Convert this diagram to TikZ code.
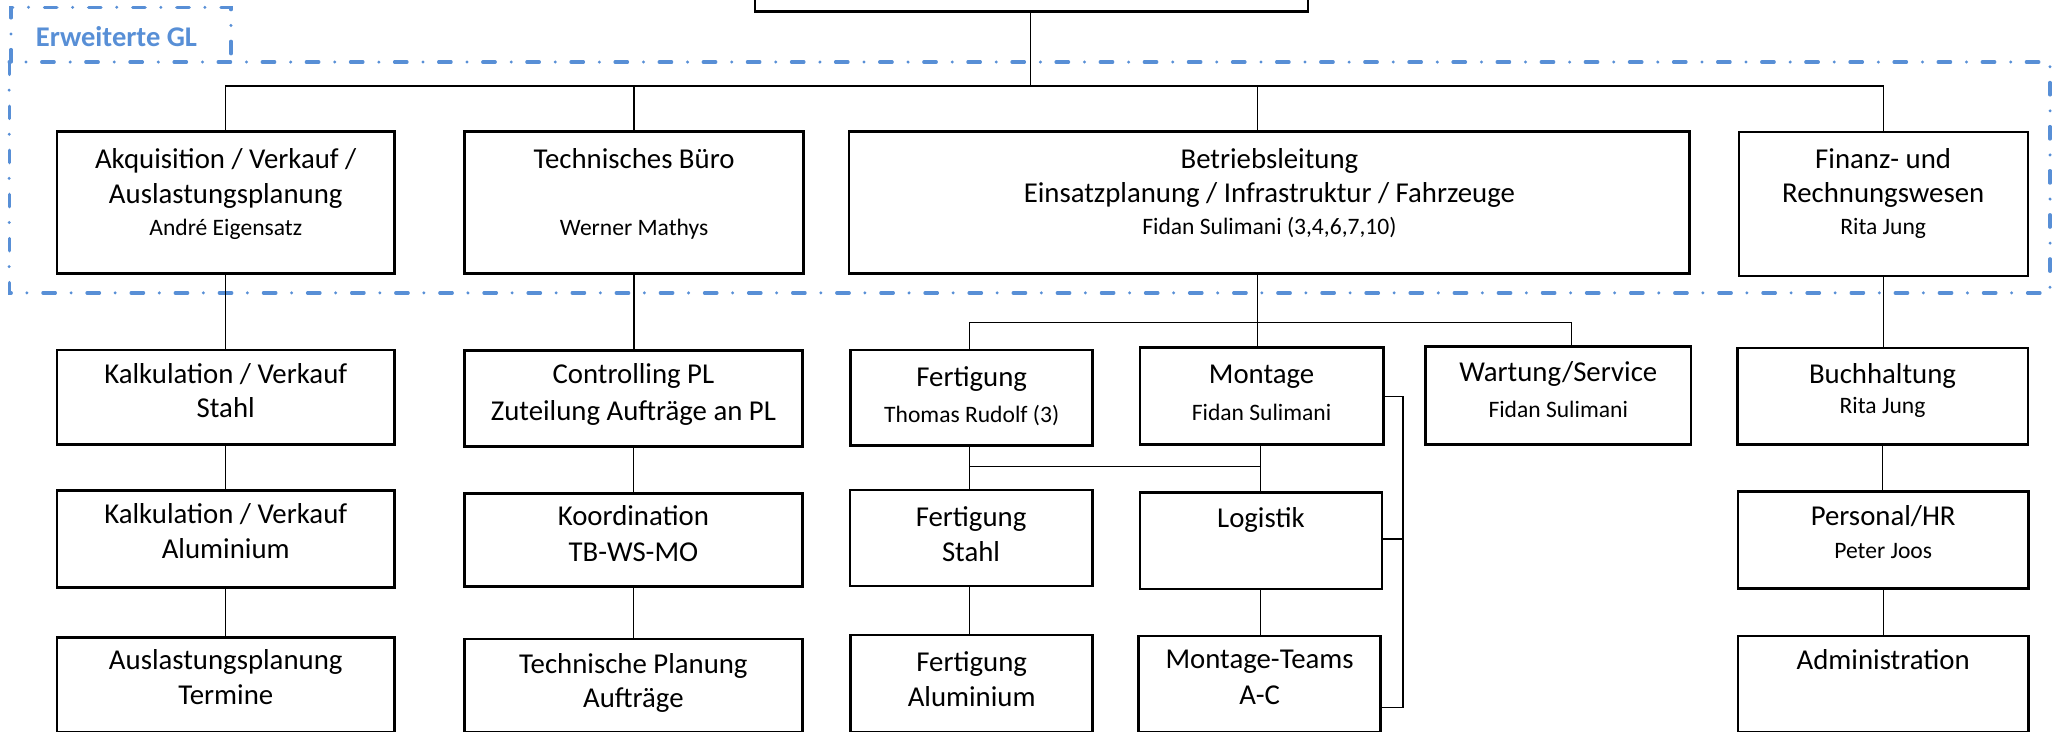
\documentclass[tikz,border=0pt]{standalone}
\usepackage{fontspec}
\setmainfont{Carlito}
\definecolor{glblue}{RGB}{88,143,214}
\tikzset{
  box/.style={draw=black, line width=2pt, rectangle, inner sep=0pt, outer sep=0pt},
  link/.style={draw=black, line width=1pt},
  big/.style={anchor=mid, inner sep=0pt, font=\fontsize{22}{24}\selectfont},
  small/.style={anchor=mid, inner sep=0pt, font=\fontsize{18}{20}\selectfont},
  dashdotblue/.style={draw=glblue, line width=2.5pt, line cap=round,
    dash pattern=on 9.5pt off 12pt on 0pt off 12.2pt},
}
\newcommand\orgbox[5]{%
  \node[box, minimum width={#4pt-#2pt}, minimum height={#5pt-#3pt}]
    (#1) at ({(#2+#4)/2},{(#3+#5)/2}) {};}
\begin{document}
\begin{tikzpicture}[x=1pt, y=-1pt]
\useasboundingbox (0,0) rectangle (1568,559.3);
\clip (0,0) rectangle (1568,559.3);

% extended management frame
\draw[dashdotblue] (7,47.4) rectangle (1566.5,223.8);
\draw[dashdotblue] (8.4,47.4) -- (8.4,5.6) -- (176.5,5.6) -- (176.5,47.4);
\node[anchor=base, inner sep=0pt, text=glblue, font=\fontsize{21.8}{24}\selectfont\bfseries]
  (gl) at (89,35.7) {Erweiterte GL};

% boxes
\orgbox{top}{577}{-80}{999.5}{8.9}
\orgbox{akq}{43.5}{100.6}{301.5}{208.8}
\orgbox{tb}{355}{100.6}{614}{208.8}
\orgbox{bl}{648.7}{100.6}{1291}{208.8}
\orgbox{fin}{1328.8}{101}{1549.7}{211}
\orgbox{kst}{43.5}{267.4}{301.5}{339.5}
\orgbox{ctl}{355}{268}{613}{341.3}
\orgbox{fer}{650}{267.4}{835}{340.5}
\orgbox{mon}{871}{265.6}{1057}{339.5}
\orgbox{war}{1089.4}{265}{1292}{339.5}
\orgbox{buc}{1327.5}{266}{1549.5}{339.5}
\orgbox{kal}{43.5}{374.9}{301.5}{449}
\orgbox{koo}{355}{376.9}{613}{448.2}
\orgbox{fst}{649.5}{374.4}{834.6}{447.7}
\orgbox{log}{871}{376.4}{1056}{450}
\orgbox{per}{1328}{375.6}{1550}{449.5}
\orgbox{aus}{43.5}{487}{301.5}{559.6}
\orgbox{tpl}{355}{488.4}{613}{559.6}
\orgbox{fal}{650}{485.2}{835}{559.6}
\orgbox{mte}{870}{486}{1055}{559.6}
\orgbox{adm}{1328}{485.9}{1550}{559.6}

% texts
\node[big] (akq1) at (172.5,126) {Akquisition / Verkauf /};
\node[big] (akq2) at (172.5,153) {Auslastungsplanung};
\node[small] (akq3) at (172.5,177.4) {André Eigensatz};
\node[big] (tb1) at (484.5,126) {Technisches Büro};
\node[small] (tb2) at (484.5,177.4) {Werner Mathys};
\node[big] (bl1) at (970,126) {Betriebsleitung};
\node[big] (bl2) at (970,152) {Einsatzplanung / Infrastruktur / Fahrzeuge};
\node[small] (bl3) at (970,177) {Fidan Sulimani (3,4,6,7,10)};
\node[big] (fin1) at (1439,126) {Finanz- und};
\node[big] (fin2) at (1439,152) {Rechnungswesen};
\node[small] (fin3) at (1439,177) {Rita Jung};

\node[big] (kst1) at (172.5,290.3) {Kalkulation / Verkauf};
\node[big] (kst2) at (172.5,317) {Stahl};
\node[big] (ctl1) at (484,290.7) {Controlling PL};
\node[big] (ctl2) at (484,318.8) {Zuteilung Aufträge an PL};
\node[big] (fer1) at (742.5,292.7) {Fertigung};
\node[small] (fer2) at (742.5,320.5) {Thomas Rudolf (3)};
\node[big] (mon1) at (964,290.8) {Montage};
\node[small] (mon2) at (964,318.7) {Fidan Sulimani};
\node[big] (war1) at (1190.7,289) {Wartung/Service};
\node[small] (war2) at (1190.7,317) {Fidan Sulimani};
\node[big] (buc1) at (1438.5,290.3) {Buchhaltung};
\node[small] (buc2) at (1438.5,313.2) {Rita Jung};

\node[big] (kal1) at (172.5,397.3) {Kalkulation / Verkauf};
\node[big] (kal2) at (172.5,424) {Aluminium};
\node[big] (koo1) at (484,399.3) {Koordination};
\node[big] (koo2) at (484,426.6) {TB-WS-MO};
\node[big] (fst1) at (742,399.8) {Fertigung};
\node[big] (fst2) at (742,426.6) {Stahl};
\node[big] (log1) at (963.5,400.9) {Logistik};
\node[big] (per1) at (1439,399.3) {Personal/HR};
\node[small] (per2) at (1439,424) {Peter Joos};

\node[big] (aus1) at (172.5,509.3) {Auslastungsplanung};
\node[big] (aus2) at (172.5,536) {Termine};
\node[big] (tpl1) at (484,512) {Technische Planung};
\node[big] (tpl2) at (484,538.6) {Aufträge};
\node[big] (fal1) at (742.5,510.6) {Fertigung};
\node[big] (fal2) at (742.5,537.3) {Aluminium};
\node[big] (mte1) at (962.5,508.6) {Montage-Teams};
\node[big] (mte2) at (962.5,536) {A-C};
\node[big] (adm1) at (1439,509.3) {Administration};

% axes / hubs
\coordinate (hubtop) at (787.6,65.7);
\coordinate (blaxis) at (961,246.5);
\coordinate (feraxis) at (741,356.5);
\coordinate (monaxis) at (963,356.5);
\coordinate (brk) at (1072,0);

% connectors, top level
\draw[link] (top.south -| hubtop) -- (hubtop);
\draw[link] (akq.north) |- (hubtop) -| (fin.north);
\draw[link] (tb.north) -- (tb.north |- hubtop);
\draw[link] (bl.north -| blaxis) -- (blaxis |- hubtop);

% left columns
\draw[link] (akq.south) -- (kst.north);
\draw[link] (kst.south) -- (kal.north);
\draw[link] (kal.south) -- (aus.north);
\draw[link] (tb.south) -- (tb.south |- ctl.north);
\draw[link] (ctl.south) -- (koo.north);
\draw[link] (koo.south) -- (tpl.north);

% Betriebsleitung
\draw[link] (bl.south -| blaxis) -- (mon.north -| blaxis);
\draw[link] (fer.north -| feraxis) |- (blaxis) -| (war.north -| 1201,0);
\draw[link] (fer.south -| feraxis) -- (fst.north -| feraxis);
\draw[link] (feraxis) -- (monaxis);
\draw[link] (mon.south -| monaxis) -- (log.north -| monaxis);
\draw[link] (fst.south -| feraxis) -- (fal.north -| feraxis);
\draw[link] (log.south -| monaxis) -- (mte.north -| monaxis);
\draw[link] (mon.east |- 0,303) -| (brk |- 0,540.4) -- (mte.east |- 0,540.4);
\draw[link] (log.east |- 0,411.8) -- (brk |- 0,411.8);

% finance column
\draw[link] (fin.south) -- (buc.north -| fin.south);
\draw[link] (buc.south) -- (per.north -| buc.south);
\draw[link] (per.south) -- (adm.north -| per.south);
\end{tikzpicture}
\end{document}
